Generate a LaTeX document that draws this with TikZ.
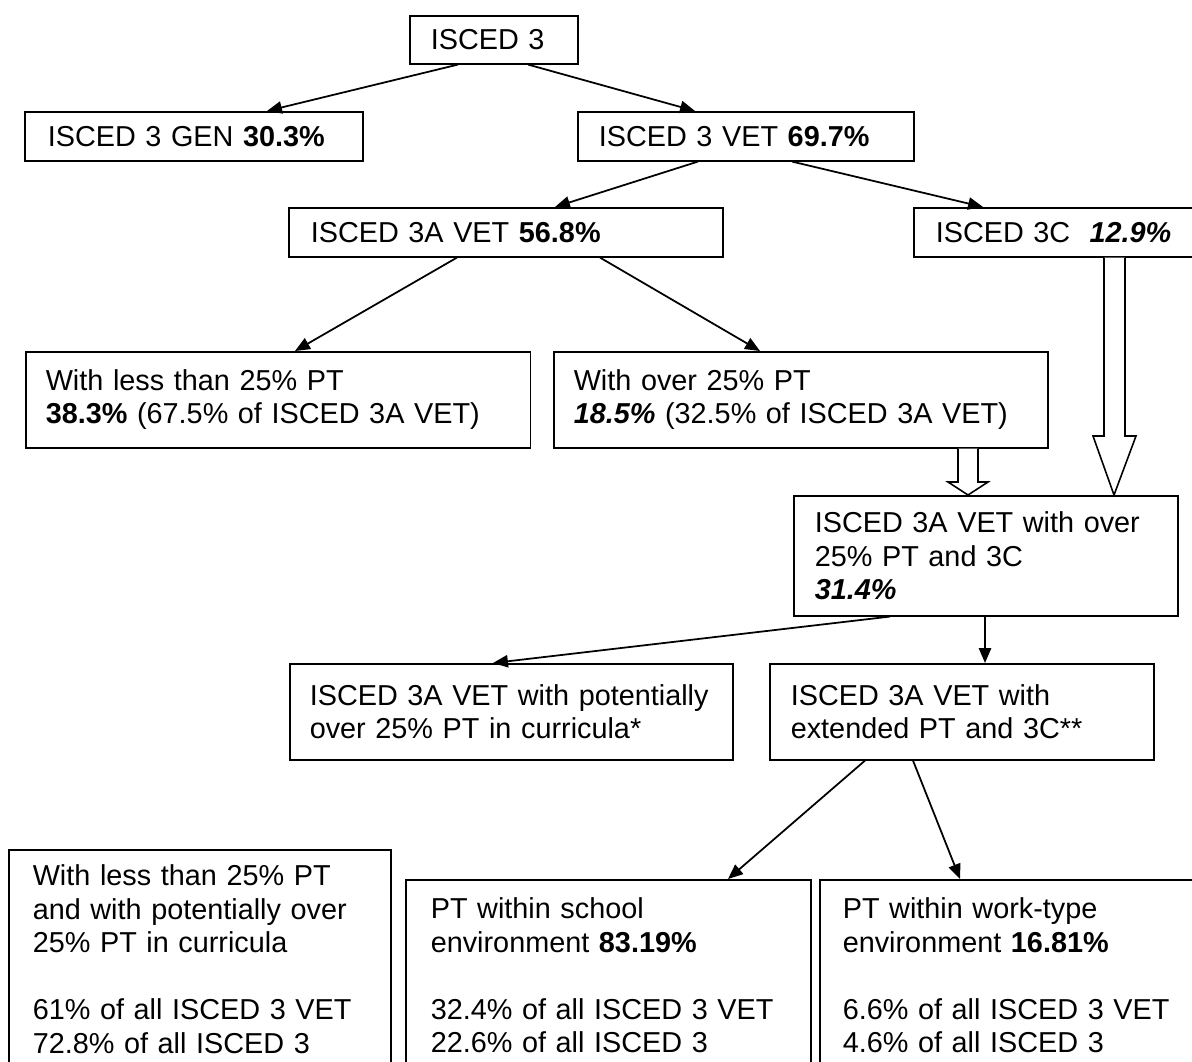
\documentclass[tikz,border=0pt]{standalone}
\usepackage{fontspec}
\setmainfont{Liberation Sans}
\usetikzlibrary{arrows.meta}

\tikzset{
  box/.style={draw, line width=0.9pt, anchor=north west, align=left, inner ysep=0pt, inner xsep=0.42cm},
  arr/.style={->, line width=1pt, >={Triangle[length=8.5pt,width=7pt]}},
  hollow/.style={line width=0.9pt, fill=white},
}

\begin{document}
\begin{tikzpicture}[x=0.02cm, y=-0.02cm, font=\fontsize{16.4pt}{19.06pt}\selectfont]
\useasboundingbox (0,0) rectangle (1192,1061);
% Boxes
\node[box, text width=2.52cm, minimum height=0.96cm] (isced3) at (409,15) {ISCED 3};
\node[box, inner xsep=0.46cm, text width=5.84cm, minimum height=0.98cm] (gen) at (24,111) {ISCED 3 GEN \textbf{30.3\%}};
\node[box, text width=5.88cm, minimum height=0.98cm] (vet) at (577,111) {ISCED 3 VET \textbf{69.7\%}};
\node[box, inner xsep=0.44cm, text width=7.8cm, minimum height=0.98cm] (a3) at (288,207) {ISCED 3A VET \textbf{56.8\%}};
\node[box, inner xsep=0.44cm, text width=5.16cm, minimum height=0.98cm] (c3) at (913,207) {ISCED 3C \ \textbf{\textit{12.9\%}}};
\node[box, inner xsep=0.4cm, text width=9.3cm, minimum height=1.92cm] (less) at (25,351) {With less than 25\% PT\\\textbf{38.3\%} (67.5\% of ISCED 3A VET)};
\node[box, inner xsep=0.4cm, text width=9.08cm, minimum height=1.92cm] (over) at (553,351) {With over 25\% PT\\\textbf{\textit{18.5\%}} (32.5\% of ISCED 3A VET)};
\node[box, text width=6.84cm, minimum height=2.4cm] (both) at (793,495) {ISCED 3A VET with over\\25\% PT and 3C\\\textbf{\textit{31.4\%}}};
\node[box, inner xsep=0.4cm, text width=8.06cm, minimum height=1.92cm] (pot) at (289,663) {\mbox{ISCED 3A VET with potentially}\\over 25\% PT in curricula*};
\node[box, text width=6.84cm, minimum height=1.92cm] (ext) at (769,663) {ISCED 3A VET with\\extended PT and 3C**};
\node[box, inner xsep=0.48cm, text width=6.68cm, minimum height=4.38cm] (rest) at (8,849) {With less than 25\% PT\\\mbox{and with potentially over}\\25\% PT in curricula\\[19.06pt]61\% of all ISCED 3 VET\\72.8\% of all ISCED 3};
\node[box, inner xsep=0.5cm, text width=7.1cm, minimum height=3.82cm] (school) at (405,879) {PT within school\\environment \textbf{83.19\%}\\[19.06pt]32.4\% of all ISCED 3 VET\\22.6\% of all ISCED 3};
\node[box, inner xsep=0.46cm, text width=7cm, minimum height=3.82cm] (work) at (819,879) {PT within work-type\\environment \textbf{16.81\%}\\[19.06pt]6.6\% of all ISCED 3 VET\\4.6\% of all ISCED 3};
% Arrows
\draw [arr] (458,0 |- isced3.south)--(267,0 |- gen.north);
\draw [arr] (528,0 |- isced3.south)--(695,0 |- vet.north);
\draw [arr] (698,0 |- vet.south)--(555,0 |- a3.north);
\draw [arr] (792,0 |- vet.south)--(983,0 |- c3.north);
\draw [arr] (457,0 |- a3.south)--(295,0 |- less.north);
\draw [arr] (600,0 |- a3.south)--(760,0 |- over.north);
\draw [arr] (985,0 |- both.south)--(985,0 |- ext.north);
\draw [arr] (890,0 |- both.south)--(493,0 |- pot.north);
\draw [arr] (865,0 |- ext.south)--(728,0 |- school.north);
\draw [arr] (913,0 |- ext.south)--(960,0 |- work.north);
% Block arrows
\draw[hollow] (1104,0 |- c3.south) -- (1104,436) -- (1093,436) -- (1114,0 |- both.north) -- (1136,436) -- (1125,436) -- (1125,0 |- c3.south);
\draw[hollow] (958,0 |- over.south) -- (958,482) -- (948,482) -- (968,0 |- both.north) -- (988,482) -- (978,482) -- (978,0 |- over.south);
\end{tikzpicture}
\end{document}
